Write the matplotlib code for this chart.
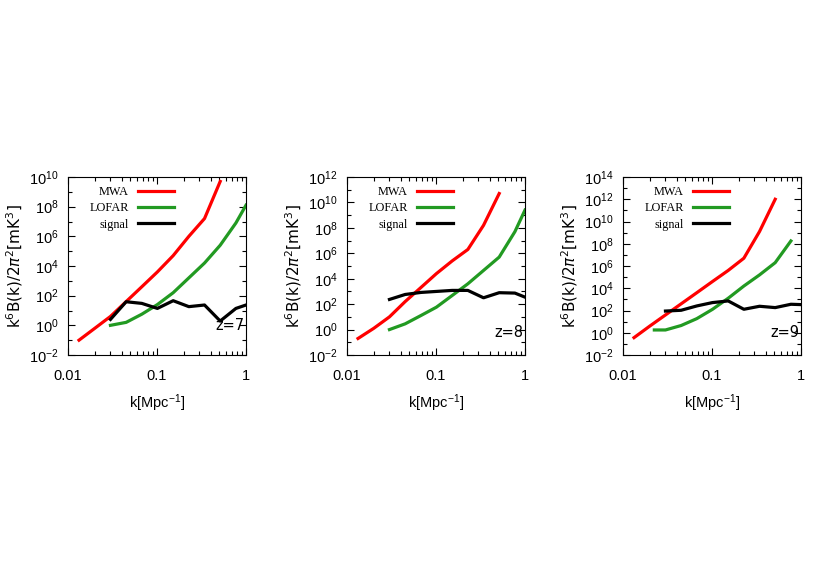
import numpy as np
from matplotlib import pyplot as plt
from matplotlib.ticker import LogLocator, FixedLocator, NullFormatter

# k grid (Mpc^-1), factor 1.5 spacing
k_mwa = [0.0133, 0.02, 0.03, 0.045, 0.0675, 0.101, 0.152, 0.228, 0.342, 0.513]
k_lofar = [0.03, 0.045, 0.0675, 0.101, 0.152, 0.228, 0.342, 0.513, 0.77, 1.0]
k_lofar9 = [0.0225, 0.03, 0.045, 0.0675, 0.101, 0.152, 0.228, 0.342, 0.513, 0.77]
k_sig = [0.03, 0.045, 0.0675, 0.101, 0.152, 0.228, 0.342, 0.513, 0.77, 1.0]

# log10 values
mwa_z7 = [-1.0, -0.2, 0.6, 1.6, 2.6, 3.6, 4.7, 6.0, 7.2, 9.7]
lofar_z7 = [0.0, 0.2, 0.75, 1.4, 2.2, 3.2, 4.2, 5.4, 6.9, 8.1]
sig_z7 = [0.40, 1.59, 1.48, 1.14, 1.66, 1.26, 1.37, 0.29, 1.14, 1.37]

mwa_z8 = [-0.7, 0.1, 1.0, 2.2, 3.3, 4.4, 5.4, 6.3, 8.2, 10.7]
lofar_z8 = [0.0, 0.45, 1.1, 1.76, 2.68, 3.6, 4.65, 5.7, 7.7, 9.4]
sig_z8 = [2.37, 2.76, 2.92, 3.0, 3.08, 3.08, 2.5, 2.9, 2.87, 2.55]

mwa_z9 = [-0.44, 0.6, 1.6, 2.6, 3.6, 4.6, 5.6, 6.7, 9.1, 12.0]
lofar_z9 = [0.25, 0.25, 0.65, 1.27, 2.1, 3.1, 4.2, 5.2, 6.3, 8.25]
sig_z9 = [1.95, 2.02, 2.41, 2.71, 2.86, 2.11, 2.38, 2.26, 2.56, 2.53]

panels = [
    ("z=7", mwa_z7, k_lofar, lofar_z7, sig_z7, 10, 0.163),
    ("z=8", mwa_z8, k_lofar, lofar_z8, sig_z8, 12, 0.124),
    ("z=9", mwa_z9, k_lofar9, lofar_z9, sig_z9, 14, 0.124),
]
lefts = [68, 347, 623]

plt.rcParams['font.family'] = ['Liberation Sans', 'DejaVu Sans']
plt.rcParams['mathtext.fontset'] = 'custom'
plt.rcParams['mathtext.rm'] = 'Liberation Sans'
plt.rcParams['mathtext.it'] = 'Liberation Sans'

fig = plt.figure(figsize=(8.3, 5.81), dpi=100)
W, H = 830, 581
green = '#229a22'

for (zlab, mwa, kl, lof, sig, ytop, zy), x0 in zip(panels, lefts):
    ax = fig.add_axes([x0 / W, 1 - 355 / H, 178 / W, 178 / H])
    ax.plot(k_mwa, 10 ** np.array(mwa), color='#ff0000', lw=2.3, label='MWA')
    ax.plot(kl, 10 ** np.array(lof), color=green, lw=2.3, label='LOFAR')
    ax.plot(k_sig, 10 ** np.array(sig), color='black', lw=2.3, label='signal')
    ax.set_xscale('log')
    ax.set_yscale('log')
    ax.set_xlim(0.01, 1)
    ax.set_ylim(1e-2, 10 ** ytop)
    ax.set_xticks([0.01, 0.1, 1])
    ax.set_xticklabels(['0.01', '0.1', '1'])
    ax.xaxis.set_minor_locator(LogLocator(base=10, subs=np.arange(2, 10)))
    ax.xaxis.set_minor_formatter(NullFormatter())
    ax.yaxis.set_major_locator(FixedLocator([10.0 ** e for e in range(-2, ytop + 1, 2)]))
    ax.yaxis.set_minor_locator(FixedLocator([10.0 ** e for e in range(-1, ytop, 2)]))
    ax.yaxis.set_minor_formatter(NullFormatter())
    ax.tick_params(which='both', direction='in', top=True, right=True, labelsize=10.5)
    ax.tick_params(axis='x', pad=10)
    ax.tick_params(axis='y', pad=7)
    ax.tick_params(which='major', length=5, width=0.8)
    ax.tick_params(which='minor', length=3, width=0.8)
    ax.set_xlabel('k[Mpc$^{-1}$]', fontsize=10.5, labelpad=7)
    ax.set_ylabel(r'k$^6$B(k)/2$\pi^2$[mK$^3$]', fontsize=11, labelpad=3,
                  family='DejaVu Sans', math_fontfamily='dejavusans')
    ax.text(0.99, zy, zlab, transform=ax.transAxes, ha='right', va='center',
            fontsize=10.5, family='DejaVu Sans')
    leg = ax.legend(loc='upper left', bbox_to_anchor=(0.06, 1.01), frameon=False, markerfirst=False,
                    handlelength=3.0, handletextpad=0.7, labelspacing=0.35,
                    prop={'family': 'Liberation Serif', 'size': 8.8})
    for t in leg.get_texts():
        t.set_ha('right')

fig.savefig('out.png', dpi=100)
